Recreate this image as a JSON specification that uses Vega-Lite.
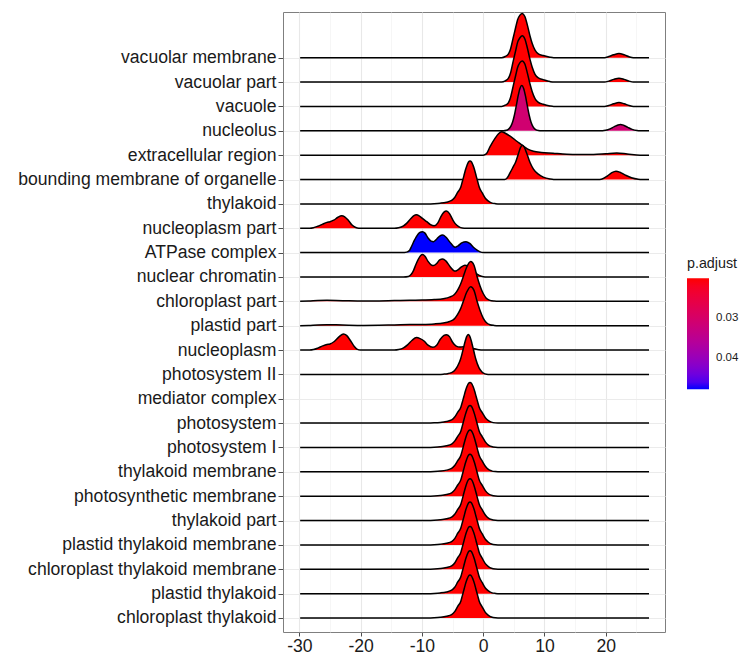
{
"$schema": "https://vega.github.io/schema/vega-lite/v6.json",
"width": 382,
"height": 620,
"autosize": "none",
"padding": {"left": 283, "top": 12, "right": 75, "bottom": 23},
"background": "white",
"config": {
  "font": "Liberation Sans",
  "view": {"stroke": "#7f7f7f", "strokeWidth": 1},
  "axis": {"domain": false, "labelFont": "Liberation Sans", "labelFontSize": 17.6, "labelColor": "#1a1a1a", "tickColor": "#4d4d4d", "tickWidth": 1, "gridColor": "#ebebeb", "gridWidth": 1, "title": null, "labelLimit": 400}
},
"datasets": {
  "terms": [
    {"term": "vacuolar membrane", "p_adjust": 0.02},
    {"term": "vacuolar part", "p_adjust": 0.02},
    {"term": "vacuole", "p_adjust": 0.02},
    {"term": "nucleolus", "p_adjust": 0.031},
    {"term": "extracellular region", "p_adjust": 0.02},
    {"term": "bounding membrane of organelle", "p_adjust": 0.02},
    {"term": "thylakoid", "p_adjust": 0.02},
    {"term": "nucleoplasm part", "p_adjust": 0.02},
    {"term": "ATPase complex", "p_adjust": 0.0478},
    {"term": "nuclear chromatin", "p_adjust": 0.02},
    {"term": "chloroplast part", "p_adjust": 0.02},
    {"term": "plastid part", "p_adjust": 0.02},
    {"term": "nucleoplasm", "p_adjust": 0.02},
    {"term": "photosystem II", "p_adjust": 0.02},
    {"term": "mediator complex", "p_adjust": 0.02},
    {"term": "photosystem", "p_adjust": 0.02},
    {"term": "photosystem I", "p_adjust": 0.02},
    {"term": "thylakoid membrane", "p_adjust": 0.02},
    {"term": "photosynthetic membrane", "p_adjust": 0.02},
    {"term": "thylakoid part", "p_adjust": 0.02},
    {"term": "plastid thylakoid membrane", "p_adjust": 0.02},
    {"term": "chloroplast thylakoid membrane", "p_adjust": 0.02},
    {"term": "plastid thylakoid", "p_adjust": 0.02},
    {"term": "chloroplast thylakoid", "p_adjust": 0.02}
  ],
  "ridges": [
    {"term":"vacuolar membrane","x":-29.87,"density":0},{"term":"vacuolar membrane","x":3.0,"density":0},{"term":"vacuolar membrane","x":3.6,"density":0.05},{"term":"vacuolar membrane","x":4.1,"density":0.15},{"term":"vacuolar membrane","x":4.45,"density":0.35},{"term":"vacuolar membrane","x":4.9,"density":0.82},{"term":"vacuolar membrane","x":5.3,"density":1.24},{"term":"vacuolar membrane","x":5.6,"density":1.55},{"term":"vacuolar membrane","x":6.0,"density":1.75},{"term":"vacuolar membrane","x":6.39,"density":1.82},{"term":"vacuolar membrane","x":6.8,"density":1.69},{"term":"vacuolar membrane","x":7.2,"density":1.35},{"term":"vacuolar membrane","x":7.64,"density":0.89},{"term":"vacuolar membrane","x":8.0,"density":0.58},{"term":"vacuolar membrane","x":8.46,"density":0.31},{"term":"vacuolar membrane","x":9.0,"density":0.16},{"term":"vacuolar membrane","x":9.8,"density":0.09},{"term":"vacuolar membrane","x":10.9,"density":0.02},{"term":"vacuolar membrane","x":11.5,"density":0},{"term":"vacuolar membrane","x":19.8,"density":0},{"term":"vacuolar membrane","x":20.5,"density":0.05},{"term":"vacuolar membrane","x":21.3,"density":0.12},{"term":"vacuolar membrane","x":22.16,"density":0.17},{"term":"vacuolar membrane","x":23.0,"density":0.12},{"term":"vacuolar membrane","x":23.8,"density":0.04},{"term":"vacuolar membrane","x":24.5,"density":0},{"term":"vacuolar membrane","x":27.06,"density":0},

    {"term":"vacuolar part","x":-29.87,"density":0},{"term":"vacuolar part","x":3.0,"density":0},{"term":"vacuolar part","x":3.6,"density":0.05},{"term":"vacuolar part","x":4.1,"density":0.15},{"term":"vacuolar part","x":4.45,"density":0.36},{"term":"vacuolar part","x":4.9,"density":0.86},{"term":"vacuolar part","x":5.3,"density":1.29},{"term":"vacuolar part","x":5.6,"density":1.62},{"term":"vacuolar part","x":6.0,"density":1.82},{"term":"vacuolar part","x":6.39,"density":1.9},{"term":"vacuolar part","x":6.8,"density":1.77},{"term":"vacuolar part","x":7.2,"density":1.41},{"term":"vacuolar part","x":7.64,"density":0.93},{"term":"vacuolar part","x":8.0,"density":0.61},{"term":"vacuolar part","x":8.46,"density":0.32},{"term":"vacuolar part","x":9.0,"density":0.17},{"term":"vacuolar part","x":9.8,"density":0.1},{"term":"vacuolar part","x":10.9,"density":0.02},{"term":"vacuolar part","x":11.5,"density":0},{"term":"vacuolar part","x":19.8,"density":0},{"term":"vacuolar part","x":20.5,"density":0.04},{"term":"vacuolar part","x":21.3,"density":0.11},{"term":"vacuolar part","x":22.16,"density":0.16},{"term":"vacuolar part","x":23.0,"density":0.11},{"term":"vacuolar part","x":23.8,"density":0.04},{"term":"vacuolar part","x":24.5,"density":0},{"term":"vacuolar part","x":27.06,"density":0},

    {"term":"vacuole","x":-29.87,"density":0},{"term":"vacuole","x":3.0,"density":0},{"term":"vacuole","x":3.6,"density":0.05},{"term":"vacuole","x":4.1,"density":0.15},{"term":"vacuole","x":4.45,"density":0.36},{"term":"vacuole","x":4.9,"density":0.84},{"term":"vacuole","x":5.3,"density":1.27},{"term":"vacuole","x":5.6,"density":1.59},{"term":"vacuole","x":6.0,"density":1.8},{"term":"vacuole","x":6.39,"density":1.87},{"term":"vacuole","x":6.8,"density":1.74},{"term":"vacuole","x":7.2,"density":1.38},{"term":"vacuole","x":7.64,"density":0.92},{"term":"vacuole","x":8.0,"density":0.6},{"term":"vacuole","x":8.46,"density":0.32},{"term":"vacuole","x":9.0,"density":0.17},{"term":"vacuole","x":9.8,"density":0.09},{"term":"vacuole","x":10.9,"density":0.02},{"term":"vacuole","x":11.5,"density":0},{"term":"vacuole","x":19.8,"density":0},{"term":"vacuole","x":20.5,"density":0.04},{"term":"vacuole","x":21.3,"density":0.11},{"term":"vacuole","x":22.16,"density":0.16},{"term":"vacuole","x":23.0,"density":0.11},{"term":"vacuole","x":23.8,"density":0.04},{"term":"vacuole","x":24.5,"density":0},{"term":"vacuole","x":27.06,"density":0},

    {"term":"nucleolus","x":-29.87,"density":0},{"term":"nucleolus","x":3.3,"density":0},{"term":"nucleolus","x":3.8,"density":0.02},{"term":"nucleolus","x":4.1,"density":0.06},{"term":"nucleolus","x":4.5,"density":0.18},{"term":"nucleolus","x":4.8,"density":0.36},{"term":"nucleolus","x":5.1,"density":0.65},{"term":"nucleolus","x":5.4,"density":1.03},{"term":"nucleolus","x":5.7,"density":1.43},{"term":"nucleolus","x":6.0,"density":1.74},{"term":"nucleolus","x":6.3,"density":1.86},{"term":"nucleolus","x":6.6,"density":1.74},{"term":"nucleolus","x":6.9,"density":1.43},{"term":"nucleolus","x":7.2,"density":1.03},{"term":"nucleolus","x":7.5,"density":0.65},{"term":"nucleolus","x":7.8,"density":0.36},{"term":"nucleolus","x":8.1,"density":0.18},{"term":"nucleolus","x":8.5,"density":0.06},{"term":"nucleolus","x":9.0,"density":0.01},{"term":"nucleolus","x":9.5,"density":0},{"term":"nucleolus","x":19.5,"density":0},{"term":"nucleolus","x":20.0,"density":0.02},{"term":"nucleolus","x":20.7,"density":0.08},{"term":"nucleolus","x":21.4,"density":0.17},{"term":"nucleolus","x":22.0,"density":0.24},{"term":"nucleolus","x":22.4,"density":0.26},{"term":"nucleolus","x":22.9,"density":0.23},{"term":"nucleolus","x":23.6,"density":0.14},{"term":"nucleolus","x":24.3,"density":0.06},{"term":"nucleolus","x":25.1,"density":0.01},{"term":"nucleolus","x":25.6,"density":0},{"term":"nucleolus","x":27.06,"density":0},

    {"term":"extracellular region","x":-29.87,"density":0},{"term":"extracellular region","x":0.0,"density":0},{"term":"extracellular region","x":0.5,"density":0.05},{"term":"extracellular region","x":1.1,"density":0.34},{"term":"extracellular region","x":1.9,"density":0.68},{"term":"extracellular region","x":2.5,"density":0.88},{"term":"extracellular region","x":3.0,"density":0.96},{"term":"extracellular region","x":3.6,"density":0.9},{"term":"extracellular region","x":4.4,"density":0.78},{"term":"extracellular region","x":5.6,"density":0.55},{"term":"extracellular region","x":6.5,"density":0.38},{"term":"extracellular region","x":7.2,"density":0.26},{"term":"extracellular region","x":8.2,"density":0.16},{"term":"extracellular region","x":9.5,"density":0.11},{"term":"extracellular region","x":11.4,"density":0.08},{"term":"extracellular region","x":13.0,"density":0.05},{"term":"extracellular region","x":15.0,"density":0.03},{"term":"extracellular region","x":18.0,"density":0.03},{"term":"extracellular region","x":20.0,"density":0.06},{"term":"extracellular region","x":21.8,"density":0.09},{"term":"extracellular region","x":23.5,"density":0.05},{"term":"extracellular region","x":25.6,"density":0},{"term":"extracellular region","x":27.06,"density":0},

    {"term":"bounding membrane of organelle","x":-29.87,"density":0},{"term":"bounding membrane of organelle","x":3.5,"density":0},{"term":"bounding membrane of organelle","x":3.9,"density":0.06},{"term":"bounding membrane of organelle","x":4.37,"density":0.27},{"term":"bounding membrane of organelle","x":4.85,"density":0.5},{"term":"bounding membrane of organelle","x":5.3,"density":0.72},{"term":"bounding membrane of organelle","x":5.8,"density":1.1},{"term":"bounding membrane of organelle","x":6.1,"density":1.32},{"term":"bounding membrane of organelle","x":6.39,"density":1.41},{"term":"bounding membrane of organelle","x":6.7,"density":1.33},{"term":"bounding membrane of organelle","x":7.1,"density":1.08},{"term":"bounding membrane of organelle","x":7.64,"density":0.7},{"term":"bounding membrane of organelle","x":8.2,"density":0.43},{"term":"bounding membrane of organelle","x":9.0,"density":0.22},{"term":"bounding membrane of organelle","x":9.8,"density":0.1},{"term":"bounding membrane of organelle","x":10.9,"density":0.02},{"term":"bounding membrane of organelle","x":11.5,"density":0},{"term":"bounding membrane of organelle","x":19.0,"density":0},{"term":"bounding membrane of organelle","x":19.6,"density":0.04},{"term":"bounding membrane of organelle","x":20.3,"density":0.15},{"term":"bounding membrane of organelle","x":21.0,"density":0.28},{"term":"bounding membrane of organelle","x":21.67,"density":0.34},{"term":"bounding membrane of organelle","x":22.3,"density":0.3},{"term":"bounding membrane of organelle","x":23.2,"density":0.18},{"term":"bounding membrane of organelle","x":24.2,"density":0.07},{"term":"bounding membrane of organelle","x":25.3,"density":0.01},{"term":"bounding membrane of organelle","x":25.9,"density":0},{"term":"bounding membrane of organelle","x":27.06,"density":0},

    {"term":"thylakoid","x":-29.87,"density":0},{"term":"thylakoid","x":-9.0,"density":0},{"term":"thylakoid","x":-8.0,"density":0.01},{"term":"thylakoid","x":-7.0,"density":0.03},{"term":"thylakoid","x":-6.0,"density":0.07},{"term":"thylakoid","x":-5.15,"density":0.14},{"term":"thylakoid","x":-4.65,"density":0.26},{"term":"thylakoid","x":-4.15,"density":0.48},{"term":"thylakoid","x":-3.65,"density":0.69},{"term":"thylakoid","x":-3.4,"density":0.92},{"term":"thylakoid","x":-3.15,"density":1.15},{"term":"thylakoid","x":-2.9,"density":1.39},{"term":"thylakoid","x":-2.65,"density":1.58},{"term":"thylakoid","x":-2.4,"density":1.72},{"term":"thylakoid","x":-2.15,"density":1.76},{"term":"thylakoid","x":-1.9,"density":1.72},{"term":"thylakoid","x":-1.65,"density":1.58},{"term":"thylakoid","x":-1.4,"density":1.39},{"term":"thylakoid","x":-1.15,"density":1.15},{"term":"thylakoid","x":-0.9,"density":0.92},{"term":"thylakoid","x":-0.65,"density":0.69},{"term":"thylakoid","x":-0.15,"density":0.45},{"term":"thylakoid","x":0.35,"density":0.23},{"term":"thylakoid","x":0.85,"density":0.11},{"term":"thylakoid","x":1.35,"density":0.04},{"term":"thylakoid","x":2.0,"density":0.01},{"term":"thylakoid","x":2.8,"density":0},{"term":"thylakoid","x":27.06,"density":0},

    {"term":"nucleoplasm part","x":-29.87,"density":0},{"term":"nucleoplasm part","x":-28.3,"density":0},{"term":"nucleoplasm part","x":-27.7,"density":0.02},{"term":"nucleoplasm part","x":-27.0,"density":0.08},{"term":"nucleoplasm part","x":-26.2,"density":0.17},{"term":"nucleoplasm part","x":-25.5,"density":0.24},{"term":"nucleoplasm part","x":-25.0,"density":0.27},{"term":"nucleoplasm part","x":-24.4,"density":0.33},{"term":"nucleoplasm part","x":-23.7,"density":0.45},{"term":"nucleoplasm part","x":-23.1,"density":0.51},{"term":"nucleoplasm part","x":-22.6,"density":0.47},{"term":"nucleoplasm part","x":-22.0,"density":0.32},{"term":"nucleoplasm part","x":-21.4,"density":0.13},{"term":"nucleoplasm part","x":-20.8,"density":0.03},{"term":"nucleoplasm part","x":-20.3,"density":0},{"term":"nucleoplasm part","x":-14.5,"density":0},{"term":"nucleoplasm part","x":-13.8,"density":0.02},{"term":"nucleoplasm part","x":-13.0,"density":0.1},{"term":"nucleoplasm part","x":-12.5,"density":0.2},{"term":"nucleoplasm part","x":-11.8,"density":0.4},{"term":"nucleoplasm part","x":-11.3,"density":0.52},{"term":"nucleoplasm part","x":-10.9,"density":0.55},{"term":"nucleoplasm part","x":-10.4,"density":0.5},{"term":"nucleoplasm part","x":-9.7,"density":0.36},{"term":"nucleoplasm part","x":-9.2,"density":0.27},{"term":"nucleoplasm part","x":-8.6,"density":0.15},{"term":"nucleoplasm part","x":-8.0,"density":0.1},{"term":"nucleoplasm part","x":-7.4,"density":0.22},{"term":"nucleoplasm part","x":-6.9,"density":0.48},{"term":"nucleoplasm part","x":-6.4,"density":0.66},{"term":"nucleoplasm part","x":-6.0,"density":0.71},{"term":"nucleoplasm part","x":-5.5,"density":0.6},{"term":"nucleoplasm part","x":-5.0,"density":0.36},{"term":"nucleoplasm part","x":-4.6,"density":0.2},{"term":"nucleoplasm part","x":-4.0,"density":0.07},{"term":"nucleoplasm part","x":-3.4,"density":0.01},{"term":"nucleoplasm part","x":-2.8,"density":0},{"term":"nucleoplasm part","x":27.06,"density":0},

    {"term":"ATPase complex","x":-29.87,"density":0},{"term":"ATPase complex","x":-13.2,"density":0},{"term":"ATPase complex","x":-12.5,"density":0.02},{"term":"ATPase complex","x":-12.0,"density":0.1},{"term":"ATPase complex","x":-11.7,"density":0.25},{"term":"ATPase complex","x":-11.3,"density":0.47},{"term":"ATPase complex","x":-10.9,"density":0.66},{"term":"ATPase complex","x":-10.4,"density":0.82},{"term":"ATPase complex","x":-9.9,"density":0.86},{"term":"ATPase complex","x":-9.5,"density":0.8},{"term":"ATPase complex","x":-9.0,"density":0.6},{"term":"ATPase complex","x":-8.5,"density":0.47},{"term":"ATPase complex","x":-8.1,"density":0.45},{"term":"ATPase complex","x":-7.6,"density":0.55},{"term":"ATPase complex","x":-7.1,"density":0.68},{"term":"ATPase complex","x":-6.6,"density":0.72},{"term":"ATPase complex","x":-6.1,"density":0.64},{"term":"ATPase complex","x":-5.4,"density":0.42},{"term":"ATPase complex","x":-4.9,"density":0.27},{"term":"ATPase complex","x":-4.6,"density":0.22},{"term":"ATPase complex","x":-4.1,"density":0.28},{"term":"ATPase complex","x":-3.5,"density":0.4},{"term":"ATPase complex","x":-2.8,"density":0.45},{"term":"ATPase complex","x":-2.2,"density":0.38},{"term":"ATPase complex","x":-1.6,"density":0.22},{"term":"ATPase complex","x":-1.0,"density":0.1},{"term":"ATPase complex","x":-0.5,"density":0.03},{"term":"ATPase complex","x":0.0,"density":0},{"term":"ATPase complex","x":27.06,"density":0},

    {"term":"nuclear chromatin","x":-29.87,"density":0},{"term":"nuclear chromatin","x":-13.0,"density":0},{"term":"nuclear chromatin","x":-12.2,"density":0.02},{"term":"nuclear chromatin","x":-11.7,"density":0.12},{"term":"nuclear chromatin","x":-11.4,"density":0.25},{"term":"nuclear chromatin","x":-11.0,"density":0.5},{"term":"nuclear chromatin","x":-10.6,"density":0.72},{"term":"nuclear chromatin","x":-10.2,"density":0.88},{"term":"nuclear chromatin","x":-9.9,"density":0.92},{"term":"nuclear chromatin","x":-9.5,"density":0.85},{"term":"nuclear chromatin","x":-9.0,"density":0.64},{"term":"nuclear chromatin","x":-8.5,"density":0.5},{"term":"nuclear chromatin","x":-8.1,"density":0.47},{"term":"nuclear chromatin","x":-7.6,"density":0.55},{"term":"nuclear chromatin","x":-7.1,"density":0.7},{"term":"nuclear chromatin","x":-6.6,"density":0.74},{"term":"nuclear chromatin","x":-6.1,"density":0.66},{"term":"nuclear chromatin","x":-5.4,"density":0.42},{"term":"nuclear chromatin","x":-4.9,"density":0.28},{"term":"nuclear chromatin","x":-4.6,"density":0.24},{"term":"nuclear chromatin","x":-4.2,"density":0.28},{"term":"nuclear chromatin","x":-3.6,"density":0.4},{"term":"nuclear chromatin","x":-3.0,"density":0.48},{"term":"nuclear chromatin","x":-2.5,"density":0.45},{"term":"nuclear chromatin","x":-1.8,"density":0.3},{"term":"nuclear chromatin","x":-1.0,"density":0.12},{"term":"nuclear chromatin","x":-0.3,"density":0.03},{"term":"nuclear chromatin","x":0.3,"density":0},{"term":"nuclear chromatin","x":27.06,"density":0},

    {"term":"chloroplast part","x":-29.87,"density":0},{"term":"chloroplast part","x":-28.5,"density":0.01},{"term":"chloroplast part","x":-27.0,"density":0.03},{"term":"chloroplast part","x":-25.5,"density":0.04},{"term":"chloroplast part","x":-24.0,"density":0.035},{"term":"chloroplast part","x":-22.0,"density":0.02},{"term":"chloroplast part","x":-19.5,"density":0.01},{"term":"chloroplast part","x":-17.0,"density":0.015},{"term":"chloroplast part","x":-14.5,"density":0.03},{"term":"chloroplast part","x":-12.0,"density":0.045},{"term":"chloroplast part","x":-10.0,"density":0.05},{"term":"chloroplast part","x":-8.0,"density":0.07},{"term":"chloroplast part","x":-6.5,"density":0.11},{"term":"chloroplast part","x":-5.5,"density":0.17},{"term":"chloroplast part","x":-4.7,"density":0.28},{"term":"chloroplast part","x":-4.2,"density":0.45},{"term":"chloroplast part","x":-3.7,"density":0.7},{"term":"chloroplast part","x":-3.2,"density":1.05},{"term":"chloroplast part","x":-2.7,"density":1.4},{"term":"chloroplast part","x":-2.04,"density":1.63},{"term":"chloroplast part","x":-1.5,"density":1.48},{"term":"chloroplast part","x":-1.0,"density":1.02},{"term":"chloroplast part","x":-0.5,"density":0.62},{"term":"chloroplast part","x":0.0,"density":0.32},{"term":"chloroplast part","x":0.5,"density":0.13},{"term":"chloroplast part","x":1.1,"density":0.04},{"term":"chloroplast part","x":1.8,"density":0.01},{"term":"chloroplast part","x":2.5,"density":0},{"term":"chloroplast part","x":27.06,"density":0},

    {"term":"plastid part","x":-29.87,"density":0},{"term":"plastid part","x":-28.5,"density":0.01},{"term":"plastid part","x":-27.0,"density":0.03},{"term":"plastid part","x":-25.5,"density":0.04},{"term":"plastid part","x":-24.0,"density":0.035},{"term":"plastid part","x":-22.0,"density":0.02},{"term":"plastid part","x":-19.5,"density":0.01},{"term":"plastid part","x":-17.0,"density":0.015},{"term":"plastid part","x":-14.5,"density":0.03},{"term":"plastid part","x":-12.0,"density":0.045},{"term":"plastid part","x":-10.0,"density":0.05},{"term":"plastid part","x":-8.0,"density":0.07},{"term":"plastid part","x":-6.5,"density":0.11},{"term":"plastid part","x":-5.5,"density":0.17},{"term":"plastid part","x":-4.7,"density":0.28},{"term":"plastid part","x":-4.2,"density":0.45},{"term":"plastid part","x":-3.7,"density":0.69},{"term":"plastid part","x":-3.2,"density":1.03},{"term":"plastid part","x":-2.7,"density":1.37},{"term":"plastid part","x":-2.04,"density":1.6},{"term":"plastid part","x":-1.5,"density":1.45},{"term":"plastid part","x":-1.0,"density":1.0},{"term":"plastid part","x":-0.5,"density":0.61},{"term":"plastid part","x":0.0,"density":0.31},{"term":"plastid part","x":0.5,"density":0.13},{"term":"plastid part","x":1.1,"density":0.04},{"term":"plastid part","x":1.8,"density":0.01},{"term":"plastid part","x":2.5,"density":0},{"term":"plastid part","x":27.06,"density":0},

    {"term":"nucleoplasm","x":-29.87,"density":0},{"term":"nucleoplasm","x":-28.3,"density":0},{"term":"nucleoplasm","x":-27.7,"density":0.02},{"term":"nucleoplasm","x":-27.0,"density":0.08},{"term":"nucleoplasm","x":-26.2,"density":0.17},{"term":"nucleoplasm","x":-25.5,"density":0.23},{"term":"nucleoplasm","x":-25.0,"density":0.25},{"term":"nucleoplasm","x":-24.3,"density":0.35},{"term":"nucleoplasm","x":-23.5,"density":0.55},{"term":"nucleoplasm","x":-22.8,"density":0.66},{"term":"nucleoplasm","x":-22.3,"density":0.6},{"term":"nucleoplasm","x":-21.7,"density":0.4},{"term":"nucleoplasm","x":-21.1,"density":0.17},{"term":"nucleoplasm","x":-20.6,"density":0.04},{"term":"nucleoplasm","x":-20.0,"density":0},{"term":"nucleoplasm","x":-14.5,"density":0},{"term":"nucleoplasm","x":-13.8,"density":0.02},{"term":"nucleoplasm","x":-13.0,"density":0.09},{"term":"nucleoplasm","x":-12.3,"density":0.22},{"term":"nucleoplasm","x":-11.6,"density":0.4},{"term":"nucleoplasm","x":-10.9,"density":0.51},{"term":"nucleoplasm","x":-10.3,"density":0.47},{"term":"nucleoplasm","x":-9.6,"density":0.36},{"term":"nucleoplasm","x":-9.0,"density":0.2},{"term":"nucleoplasm","x":-8.2,"density":0.11},{"term":"nucleoplasm","x":-7.6,"density":0.2},{"term":"nucleoplasm","x":-7.0,"density":0.44},{"term":"nucleoplasm","x":-6.4,"density":0.6},{"term":"nucleoplasm","x":-6.0,"density":0.63},{"term":"nucleoplasm","x":-5.5,"density":0.55},{"term":"nucleoplasm","x":-5.0,"density":0.32},{"term":"nucleoplasm","x":-4.4,"density":0.16},{"term":"nucleoplasm","x":-3.8,"density":0.12},{"term":"nucleoplasm","x":-3.2,"density":0.14},{"term":"nucleoplasm","x":-2.7,"density":0.14},{"term":"nucleoplasm","x":-2.1,"density":0.1},{"term":"nucleoplasm","x":-1.4,"density":0.05},{"term":"nucleoplasm","x":-0.7,"density":0.01},{"term":"nucleoplasm","x":0.0,"density":0},{"term":"nucleoplasm","x":27.06,"density":0},

    {"term":"photosystem II","x":-29.87,"density":0},{"term":"photosystem II","x":-7.2,"density":0},{"term":"photosystem II","x":-6.5,"density":0.01},{"term":"photosystem II","x":-5.8,"density":0.03},{"term":"photosystem II","x":-5.2,"density":0.07},{"term":"photosystem II","x":-4.7,"density":0.15},{"term":"photosystem II","x":-4.2,"density":0.33},{"term":"photosystem II","x":-3.7,"density":0.62},{"term":"photosystem II","x":-3.45,"density":0.85},{"term":"photosystem II","x":-3.2,"density":1.1},{"term":"photosystem II","x":-2.95,"density":1.35},{"term":"photosystem II","x":-2.7,"density":1.55},{"term":"photosystem II","x":-2.45,"density":1.64},{"term":"photosystem II","x":-2.2,"density":1.57},{"term":"photosystem II","x":-1.95,"density":1.38},{"term":"photosystem II","x":-1.7,"density":1.13},{"term":"photosystem II","x":-1.45,"density":0.87},{"term":"photosystem II","x":-1.2,"density":0.62},{"term":"photosystem II","x":-0.7,"density":0.28},{"term":"photosystem II","x":-0.2,"density":0.1},{"term":"photosystem II","x":0.3,"density":0.02},{"term":"photosystem II","x":0.8,"density":0},{"term":"photosystem II","x":27.06,"density":0},

    {"term":"photosystem","x":-29.87,"density":0},{"term":"photosystem","x":-9.0,"density":0},{"term":"photosystem","x":-8.0,"density":0.01},{"term":"photosystem","x":-7.0,"density":0.03},{"term":"photosystem","x":-6.0,"density":0.07},{"term":"photosystem","x":-5.15,"density":0.13},{"term":"photosystem","x":-4.65,"density":0.25},{"term":"photosystem","x":-4.15,"density":0.45},{"term":"photosystem","x":-3.65,"density":0.65},{"term":"photosystem","x":-3.4,"density":0.87},{"term":"photosystem","x":-3.15,"density":1.09},{"term":"photosystem","x":-2.9,"density":1.32},{"term":"photosystem","x":-2.65,"density":1.5},{"term":"photosystem","x":-2.4,"density":1.63},{"term":"photosystem","x":-2.15,"density":1.67},{"term":"photosystem","x":-1.9,"density":1.63},{"term":"photosystem","x":-1.65,"density":1.5},{"term":"photosystem","x":-1.4,"density":1.32},{"term":"photosystem","x":-1.15,"density":1.09},{"term":"photosystem","x":-0.9,"density":0.87},{"term":"photosystem","x":-0.65,"density":0.65},{"term":"photosystem","x":-0.15,"density":0.43},{"term":"photosystem","x":0.35,"density":0.22},{"term":"photosystem","x":0.85,"density":0.1},{"term":"photosystem","x":1.35,"density":0.04},{"term":"photosystem","x":2.0,"density":0.01},{"term":"photosystem","x":2.8,"density":0},{"term":"photosystem","x":27.06,"density":0},

    {"term":"photosystem I","x":-29.87,"density":0},{"term":"photosystem I","x":-9.0,"density":0},{"term":"photosystem I","x":-8.0,"density":0.01},{"term":"photosystem I","x":-7.0,"density":0.03},{"term":"photosystem I","x":-6.0,"density":0.07},{"term":"photosystem I","x":-5.15,"density":0.14},{"term":"photosystem I","x":-4.65,"density":0.26},{"term":"photosystem I","x":-4.15,"density":0.46},{"term":"photosystem I","x":-3.65,"density":0.67},{"term":"photosystem I","x":-3.4,"density":0.89},{"term":"photosystem I","x":-3.15,"density":1.13},{"term":"photosystem I","x":-2.9,"density":1.36},{"term":"photosystem I","x":-2.65,"density":1.55},{"term":"photosystem I","x":-2.4,"density":1.68},{"term":"photosystem I","x":-2.15,"density":1.72},{"term":"photosystem I","x":-1.9,"density":1.68},{"term":"photosystem I","x":-1.65,"density":1.55},{"term":"photosystem I","x":-1.4,"density":1.36},{"term":"photosystem I","x":-1.15,"density":1.13},{"term":"photosystem I","x":-0.9,"density":0.89},{"term":"photosystem I","x":-0.65,"density":0.67},{"term":"photosystem I","x":-0.15,"density":0.44},{"term":"photosystem I","x":0.35,"density":0.23},{"term":"photosystem I","x":0.85,"density":0.1},{"term":"photosystem I","x":1.35,"density":0.04},{"term":"photosystem I","x":2.0,"density":0.01},{"term":"photosystem I","x":2.8,"density":0},{"term":"photosystem I","x":27.06,"density":0},

    {"term":"thylakoid membrane","x":-29.87,"density":0},{"term":"thylakoid membrane","x":-9.0,"density":0},{"term":"thylakoid membrane","x":-8.0,"density":0.01},{"term":"thylakoid membrane","x":-7.0,"density":0.03},{"term":"thylakoid membrane","x":-6.0,"density":0.07},{"term":"thylakoid membrane","x":-5.15,"density":0.14},{"term":"thylakoid membrane","x":-4.65,"density":0.26},{"term":"thylakoid membrane","x":-4.15,"density":0.46},{"term":"thylakoid membrane","x":-3.65,"density":0.67},{"term":"thylakoid membrane","x":-3.4,"density":0.89},{"term":"thylakoid membrane","x":-3.15,"density":1.13},{"term":"thylakoid membrane","x":-2.9,"density":1.36},{"term":"thylakoid membrane","x":-2.65,"density":1.55},{"term":"thylakoid membrane","x":-2.4,"density":1.68},{"term":"thylakoid membrane","x":-2.15,"density":1.72},{"term":"thylakoid membrane","x":-1.9,"density":1.68},{"term":"thylakoid membrane","x":-1.65,"density":1.55},{"term":"thylakoid membrane","x":-1.4,"density":1.36},{"term":"thylakoid membrane","x":-1.15,"density":1.13},{"term":"thylakoid membrane","x":-0.9,"density":0.89},{"term":"thylakoid membrane","x":-0.65,"density":0.67},{"term":"thylakoid membrane","x":-0.15,"density":0.44},{"term":"thylakoid membrane","x":0.35,"density":0.23},{"term":"thylakoid membrane","x":0.85,"density":0.1},{"term":"thylakoid membrane","x":1.35,"density":0.04},{"term":"thylakoid membrane","x":2.0,"density":0.01},{"term":"thylakoid membrane","x":2.8,"density":0},{"term":"thylakoid membrane","x":27.06,"density":0},

    {"term":"photosynthetic membrane","x":-29.87,"density":0},{"term":"photosynthetic membrane","x":-9.0,"density":0},{"term":"photosynthetic membrane","x":-8.0,"density":0.01},{"term":"photosynthetic membrane","x":-7.0,"density":0.03},{"term":"photosynthetic membrane","x":-6.0,"density":0.07},{"term":"photosynthetic membrane","x":-5.15,"density":0.14},{"term":"photosynthetic membrane","x":-4.65,"density":0.26},{"term":"photosynthetic membrane","x":-4.15,"density":0.46},{"term":"photosynthetic membrane","x":-3.65,"density":0.67},{"term":"photosynthetic membrane","x":-3.4,"density":0.89},{"term":"photosynthetic membrane","x":-3.15,"density":1.13},{"term":"photosynthetic membrane","x":-2.9,"density":1.36},{"term":"photosynthetic membrane","x":-2.65,"density":1.55},{"term":"photosynthetic membrane","x":-2.4,"density":1.68},{"term":"photosynthetic membrane","x":-2.15,"density":1.72},{"term":"photosynthetic membrane","x":-1.9,"density":1.68},{"term":"photosynthetic membrane","x":-1.65,"density":1.55},{"term":"photosynthetic membrane","x":-1.4,"density":1.36},{"term":"photosynthetic membrane","x":-1.15,"density":1.13},{"term":"photosynthetic membrane","x":-0.9,"density":0.89},{"term":"photosynthetic membrane","x":-0.65,"density":0.67},{"term":"photosynthetic membrane","x":-0.15,"density":0.44},{"term":"photosynthetic membrane","x":0.35,"density":0.23},{"term":"photosynthetic membrane","x":0.85,"density":0.1},{"term":"photosynthetic membrane","x":1.35,"density":0.04},{"term":"photosynthetic membrane","x":2.0,"density":0.01},{"term":"photosynthetic membrane","x":2.8,"density":0},{"term":"photosynthetic membrane","x":27.06,"density":0},

    {"term":"thylakoid part","x":-29.87,"density":0},{"term":"thylakoid part","x":-9.0,"density":0},{"term":"thylakoid part","x":-8.0,"density":0.01},{"term":"thylakoid part","x":-7.0,"density":0.03},{"term":"thylakoid part","x":-6.0,"density":0.07},{"term":"thylakoid part","x":-5.15,"density":0.14},{"term":"thylakoid part","x":-4.65,"density":0.26},{"term":"thylakoid part","x":-4.15,"density":0.46},{"term":"thylakoid part","x":-3.65,"density":0.67},{"term":"thylakoid part","x":-3.4,"density":0.89},{"term":"thylakoid part","x":-3.15,"density":1.13},{"term":"thylakoid part","x":-2.9,"density":1.36},{"term":"thylakoid part","x":-2.65,"density":1.55},{"term":"thylakoid part","x":-2.4,"density":1.68},{"term":"thylakoid part","x":-2.15,"density":1.72},{"term":"thylakoid part","x":-1.9,"density":1.68},{"term":"thylakoid part","x":-1.65,"density":1.55},{"term":"thylakoid part","x":-1.4,"density":1.36},{"term":"thylakoid part","x":-1.15,"density":1.13},{"term":"thylakoid part","x":-0.9,"density":0.89},{"term":"thylakoid part","x":-0.65,"density":0.67},{"term":"thylakoid part","x":-0.15,"density":0.44},{"term":"thylakoid part","x":0.35,"density":0.23},{"term":"thylakoid part","x":0.85,"density":0.1},{"term":"thylakoid part","x":1.35,"density":0.04},{"term":"thylakoid part","x":2.0,"density":0.01},{"term":"thylakoid part","x":2.8,"density":0},{"term":"thylakoid part","x":27.06,"density":0},

    {"term":"plastid thylakoid membrane","x":-29.87,"density":0},{"term":"plastid thylakoid membrane","x":-9.0,"density":0},{"term":"plastid thylakoid membrane","x":-8.0,"density":0.01},{"term":"plastid thylakoid membrane","x":-7.0,"density":0.03},{"term":"plastid thylakoid membrane","x":-6.0,"density":0.07},{"term":"plastid thylakoid membrane","x":-5.15,"density":0.14},{"term":"plastid thylakoid membrane","x":-4.65,"density":0.26},{"term":"plastid thylakoid membrane","x":-4.15,"density":0.48},{"term":"plastid thylakoid membrane","x":-3.65,"density":0.69},{"term":"plastid thylakoid membrane","x":-3.4,"density":0.92},{"term":"plastid thylakoid membrane","x":-3.15,"density":1.15},{"term":"plastid thylakoid membrane","x":-2.9,"density":1.39},{"term":"plastid thylakoid membrane","x":-2.65,"density":1.58},{"term":"plastid thylakoid membrane","x":-2.4,"density":1.72},{"term":"plastid thylakoid membrane","x":-2.15,"density":1.76},{"term":"plastid thylakoid membrane","x":-1.9,"density":1.72},{"term":"plastid thylakoid membrane","x":-1.65,"density":1.58},{"term":"plastid thylakoid membrane","x":-1.4,"density":1.39},{"term":"plastid thylakoid membrane","x":-1.15,"density":1.15},{"term":"plastid thylakoid membrane","x":-0.9,"density":0.92},{"term":"plastid thylakoid membrane","x":-0.65,"density":0.69},{"term":"plastid thylakoid membrane","x":-0.15,"density":0.45},{"term":"plastid thylakoid membrane","x":0.35,"density":0.23},{"term":"plastid thylakoid membrane","x":0.85,"density":0.11},{"term":"plastid thylakoid membrane","x":1.35,"density":0.04},{"term":"plastid thylakoid membrane","x":2.0,"density":0.01},{"term":"plastid thylakoid membrane","x":2.8,"density":0},{"term":"plastid thylakoid membrane","x":27.06,"density":0},

    {"term":"chloroplast thylakoid membrane","x":-29.87,"density":0},{"term":"chloroplast thylakoid membrane","x":-9.0,"density":0},{"term":"chloroplast thylakoid membrane","x":-8.0,"density":0.01},{"term":"chloroplast thylakoid membrane","x":-7.0,"density":0.03},{"term":"chloroplast thylakoid membrane","x":-6.0,"density":0.07},{"term":"chloroplast thylakoid membrane","x":-5.15,"density":0.14},{"term":"chloroplast thylakoid membrane","x":-4.65,"density":0.26},{"term":"chloroplast thylakoid membrane","x":-4.15,"density":0.48},{"term":"chloroplast thylakoid membrane","x":-3.65,"density":0.69},{"term":"chloroplast thylakoid membrane","x":-3.4,"density":0.92},{"term":"chloroplast thylakoid membrane","x":-3.15,"density":1.15},{"term":"chloroplast thylakoid membrane","x":-2.9,"density":1.39},{"term":"chloroplast thylakoid membrane","x":-2.65,"density":1.58},{"term":"chloroplast thylakoid membrane","x":-2.4,"density":1.72},{"term":"chloroplast thylakoid membrane","x":-2.15,"density":1.76},{"term":"chloroplast thylakoid membrane","x":-1.9,"density":1.72},{"term":"chloroplast thylakoid membrane","x":-1.65,"density":1.58},{"term":"chloroplast thylakoid membrane","x":-1.4,"density":1.39},{"term":"chloroplast thylakoid membrane","x":-1.15,"density":1.15},{"term":"chloroplast thylakoid membrane","x":-0.9,"density":0.92},{"term":"chloroplast thylakoid membrane","x":-0.65,"density":0.69},{"term":"chloroplast thylakoid membrane","x":-0.15,"density":0.45},{"term":"chloroplast thylakoid membrane","x":0.35,"density":0.23},{"term":"chloroplast thylakoid membrane","x":0.85,"density":0.11},{"term":"chloroplast thylakoid membrane","x":1.35,"density":0.04},{"term":"chloroplast thylakoid membrane","x":2.0,"density":0.01},{"term":"chloroplast thylakoid membrane","x":2.8,"density":0},{"term":"chloroplast thylakoid membrane","x":27.06,"density":0},

    {"term":"plastid thylakoid","x":-29.87,"density":0},{"term":"plastid thylakoid","x":-9.0,"density":0},{"term":"plastid thylakoid","x":-8.0,"density":0.01},{"term":"plastid thylakoid","x":-7.0,"density":0.03},{"term":"plastid thylakoid","x":-6.0,"density":0.07},{"term":"plastid thylakoid","x":-5.15,"density":0.14},{"term":"plastid thylakoid","x":-4.65,"density":0.26},{"term":"plastid thylakoid","x":-4.15,"density":0.48},{"term":"plastid thylakoid","x":-3.65,"density":0.69},{"term":"plastid thylakoid","x":-3.4,"density":0.92},{"term":"plastid thylakoid","x":-3.15,"density":1.15},{"term":"plastid thylakoid","x":-2.9,"density":1.39},{"term":"plastid thylakoid","x":-2.65,"density":1.58},{"term":"plastid thylakoid","x":-2.4,"density":1.72},{"term":"plastid thylakoid","x":-2.15,"density":1.76},{"term":"plastid thylakoid","x":-1.9,"density":1.72},{"term":"plastid thylakoid","x":-1.65,"density":1.58},{"term":"plastid thylakoid","x":-1.4,"density":1.39},{"term":"plastid thylakoid","x":-1.15,"density":1.15},{"term":"plastid thylakoid","x":-0.9,"density":0.92},{"term":"plastid thylakoid","x":-0.65,"density":0.69},{"term":"plastid thylakoid","x":-0.15,"density":0.45},{"term":"plastid thylakoid","x":0.35,"density":0.23},{"term":"plastid thylakoid","x":0.85,"density":0.11},{"term":"plastid thylakoid","x":1.35,"density":0.04},{"term":"plastid thylakoid","x":2.0,"density":0.01},{"term":"plastid thylakoid","x":2.8,"density":0},{"term":"plastid thylakoid","x":27.06,"density":0},

    {"term":"chloroplast thylakoid","x":-29.87,"density":0},{"term":"chloroplast thylakoid","x":-9.0,"density":0},{"term":"chloroplast thylakoid","x":-8.0,"density":0.01},{"term":"chloroplast thylakoid","x":-7.0,"density":0.03},{"term":"chloroplast thylakoid","x":-6.0,"density":0.07},{"term":"chloroplast thylakoid","x":-5.15,"density":0.14},{"term":"chloroplast thylakoid","x":-4.65,"density":0.26},{"term":"chloroplast thylakoid","x":-4.15,"density":0.48},{"term":"chloroplast thylakoid","x":-3.65,"density":0.69},{"term":"chloroplast thylakoid","x":-3.4,"density":0.92},{"term":"chloroplast thylakoid","x":-3.15,"density":1.15},{"term":"chloroplast thylakoid","x":-2.9,"density":1.39},{"term":"chloroplast thylakoid","x":-2.65,"density":1.58},{"term":"chloroplast thylakoid","x":-2.4,"density":1.72},{"term":"chloroplast thylakoid","x":-2.15,"density":1.76},{"term":"chloroplast thylakoid","x":-1.9,"density":1.72},{"term":"chloroplast thylakoid","x":-1.65,"density":1.58},{"term":"chloroplast thylakoid","x":-1.4,"density":1.39},{"term":"chloroplast thylakoid","x":-1.15,"density":1.15},{"term":"chloroplast thylakoid","x":-0.9,"density":0.92},{"term":"chloroplast thylakoid","x":-0.65,"density":0.69},{"term":"chloroplast thylakoid","x":-0.15,"density":0.45},{"term":"chloroplast thylakoid","x":0.35,"density":0.23},{"term":"chloroplast thylakoid","x":0.85,"density":0.11},{"term":"chloroplast thylakoid","x":1.35,"density":0.04},{"term":"chloroplast thylakoid","x":2.0,"density":0.01},{"term":"chloroplast thylakoid","x":2.8,"density":0},{"term":"chloroplast thylakoid","x":27.06,"density":0}
  ]
},
"data": {"name": "ridges"},
"transform": [{"lookup": "term", "from": {"data": {"name": "terms"}, "key": "term", "fields": ["p_adjust"]}}],
"encoding": {
  "x": {"field": "x", "type": "quantitative", "scale": {"domain": [-32.67, 29.67], "nice": false, "zero": false},
    "axis": {"values": [-30, -25, -20, -15, -10, -5, 0, 5, 10, 15, 20, 25], "labelExpr": "datum.value % 10 === 0 ? '' + datum.value : ''", "grid": true,
      "gridColor": {"condition": {"test": "datum.value % 10 === 0", "value": "#e8e8e8"}, "value": "#f2f2f2"},
      "gridWidth": {"condition": {"test": "datum.value % 10 === 0", "value": 1.1}, "value": 0.7},
      "tickOpacity": {"condition": {"test": "datum.value % 10 === 0", "value": 1}, "value": 0},
      "tickSize": 4, "labelPadding": 1, "labelFlush": false, "labelOverlap": false, "title": null}},
  "color": {"field": "p_adjust", "type": "quantitative",
    "scale": {"domain": [0.0478, 0.02], "range": ["#0000FF", "#FF0000"], "interpolate": "lab", "nice": false, "zero": false},
    "legend": {"title": "p.adjust", "orient": "none", "legendX": 404, "legendY": 245, "direction": "vertical", "gradientLength": 111, "gradientThickness": 22, "gradientStrokeWidth": 0, "values": [0.03, 0.04], "format": ".2f", "labelFont": "Liberation Sans", "labelFontSize": 11.5, "labelColor": "#1a1a1a", "labelOffset": 7, "titleFont": "Liberation Sans", "titleFontSize": 14.3, "titleFontWeight": "normal", "titleColor": "#1a1a1a", "titlePadding": 7}}
},
"layer": [
  {"transform": [{"filter": {"field": "term", "equal": "vacuolar membrane"}}], "encoding": {"y": {"field": "density", "type": "quantitative", "stack": null, "scale": {"domain": [-23.575, 1.877], "nice": false, "zero": false},
    "axis": {"values": [-23, -22, -21, -20, -19, -18, -17, -16, -15, -14, -13, -12, -11, -10, -9, -8, -7, -6, -5, -4, -3, -2, -1, 0], "labelExpr": "['chloroplast thylakoid','plastid thylakoid','chloroplast thylakoid membrane','plastid thylakoid membrane','thylakoid part','photosynthetic membrane','thylakoid membrane','photosystem I','photosystem','mediator complex','photosystem II','nucleoplasm','plastid part','chloroplast part','nuclear chromatin','ATPase complex','nucleoplasm part','thylakoid','bounding membrane of organelle','extracellular region','nucleolus','vacuole','vacuolar part','vacuolar membrane'][datum.value + 23]", "grid": true, "gridColor": "#ebebeb", "tickSize": 5, "labelPadding": 2, "labelOverlap": false, "labelBound": false, "labelFlush": false, "labelLimit": 400, "title": null}}},
   "layer": [{"mark": {"type": "area", "interpolate": "monotone", "opacity": 1}, "encoding": {"y2": {"datum": 0}}}, {"mark": {"type": "line", "interpolate": "monotone", "strokeWidth": 1.5}, "encoding": {"color": {"value": "black"}}}]},
  {"transform": [{"filter": {"field": "term", "equal": "vacuolar part"}}], "encoding": {"y": {"field": "density", "type": "quantitative", "stack": null, "scale": {"domain": [-22.575, 2.877], "nice": false, "zero": false}, "axis": null}},
   "layer": [{"mark": {"type": "area", "interpolate": "monotone", "opacity": 1}, "encoding": {"y2": {"datum": 0}}}, {"mark": {"type": "line", "interpolate": "monotone", "strokeWidth": 1.5}, "encoding": {"color": {"value": "black"}}}]},
  {"transform": [{"filter": {"field": "term", "equal": "vacuole"}}], "encoding": {"y": {"field": "density", "type": "quantitative", "stack": null, "scale": {"domain": [-21.575, 3.877], "nice": false, "zero": false}, "axis": null}},
   "layer": [{"mark": {"type": "area", "interpolate": "monotone", "opacity": 1}, "encoding": {"y2": {"datum": 0}}}, {"mark": {"type": "line", "interpolate": "monotone", "strokeWidth": 1.5}, "encoding": {"color": {"value": "black"}}}]},
  {"transform": [{"filter": {"field": "term", "equal": "nucleolus"}}], "encoding": {"y": {"field": "density", "type": "quantitative", "stack": null, "scale": {"domain": [-20.575, 4.877], "nice": false, "zero": false}, "axis": null}},
   "layer": [{"mark": {"type": "area", "interpolate": "monotone", "opacity": 1}, "encoding": {"y2": {"datum": 0}}}, {"mark": {"type": "line", "interpolate": "monotone", "strokeWidth": 1.5}, "encoding": {"color": {"value": "black"}}}]},
  {"transform": [{"filter": {"field": "term", "equal": "extracellular region"}}], "encoding": {"y": {"field": "density", "type": "quantitative", "stack": null, "scale": {"domain": [-19.575, 5.877], "nice": false, "zero": false}, "axis": null}},
   "layer": [{"mark": {"type": "area", "interpolate": "monotone", "opacity": 1}, "encoding": {"y2": {"datum": 0}}}, {"mark": {"type": "line", "interpolate": "monotone", "strokeWidth": 1.5}, "encoding": {"color": {"value": "black"}}}]},
  {"transform": [{"filter": {"field": "term", "equal": "bounding membrane of organelle"}}], "encoding": {"y": {"field": "density", "type": "quantitative", "stack": null, "scale": {"domain": [-18.575, 6.877], "nice": false, "zero": false}, "axis": null}},
   "layer": [{"mark": {"type": "area", "interpolate": "monotone", "opacity": 1}, "encoding": {"y2": {"datum": 0}}}, {"mark": {"type": "line", "interpolate": "monotone", "strokeWidth": 1.5}, "encoding": {"color": {"value": "black"}}}]},
  {"transform": [{"filter": {"field": "term", "equal": "thylakoid"}}], "encoding": {"y": {"field": "density", "type": "quantitative", "stack": null, "scale": {"domain": [-17.575, 7.877], "nice": false, "zero": false}, "axis": null}},
   "layer": [{"mark": {"type": "area", "interpolate": "monotone", "opacity": 1}, "encoding": {"y2": {"datum": 0}}}, {"mark": {"type": "line", "interpolate": "monotone", "strokeWidth": 1.5}, "encoding": {"color": {"value": "black"}}}]},
  {"transform": [{"filter": {"field": "term", "equal": "nucleoplasm part"}}], "encoding": {"y": {"field": "density", "type": "quantitative", "stack": null, "scale": {"domain": [-16.575, 8.877], "nice": false, "zero": false}, "axis": null}},
   "layer": [{"mark": {"type": "area", "interpolate": "monotone", "opacity": 1}, "encoding": {"y2": {"datum": 0}}}, {"mark": {"type": "line", "interpolate": "monotone", "strokeWidth": 1.5}, "encoding": {"color": {"value": "black"}}}]},
  {"transform": [{"filter": {"field": "term", "equal": "ATPase complex"}}], "encoding": {"y": {"field": "density", "type": "quantitative", "stack": null, "scale": {"domain": [-15.575, 9.877], "nice": false, "zero": false}, "axis": null}},
   "layer": [{"mark": {"type": "area", "interpolate": "monotone", "opacity": 1}, "encoding": {"y2": {"datum": 0}}}, {"mark": {"type": "line", "interpolate": "monotone", "strokeWidth": 1.5}, "encoding": {"color": {"value": "black"}}}]},
  {"transform": [{"filter": {"field": "term", "equal": "nuclear chromatin"}}], "encoding": {"y": {"field": "density", "type": "quantitative", "stack": null, "scale": {"domain": [-14.575, 10.877], "nice": false, "zero": false}, "axis": null}},
   "layer": [{"mark": {"type": "area", "interpolate": "monotone", "opacity": 1}, "encoding": {"y2": {"datum": 0}}}, {"mark": {"type": "line", "interpolate": "monotone", "strokeWidth": 1.5}, "encoding": {"color": {"value": "black"}}}]},
  {"transform": [{"filter": {"field": "term", "equal": "chloroplast part"}}], "encoding": {"y": {"field": "density", "type": "quantitative", "stack": null, "scale": {"domain": [-13.575, 11.877], "nice": false, "zero": false}, "axis": null}},
   "layer": [{"mark": {"type": "area", "interpolate": "monotone", "opacity": 1}, "encoding": {"y2": {"datum": 0}}}, {"mark": {"type": "line", "interpolate": "monotone", "strokeWidth": 1.5}, "encoding": {"color": {"value": "black"}}}]},
  {"transform": [{"filter": {"field": "term", "equal": "plastid part"}}], "encoding": {"y": {"field": "density", "type": "quantitative", "stack": null, "scale": {"domain": [-12.575, 12.877], "nice": false, "zero": false}, "axis": null}},
   "layer": [{"mark": {"type": "area", "interpolate": "monotone", "opacity": 1}, "encoding": {"y2": {"datum": 0}}}, {"mark": {"type": "line", "interpolate": "monotone", "strokeWidth": 1.5}, "encoding": {"color": {"value": "black"}}}]},
  {"transform": [{"filter": {"field": "term", "equal": "nucleoplasm"}}], "encoding": {"y": {"field": "density", "type": "quantitative", "stack": null, "scale": {"domain": [-11.575, 13.877], "nice": false, "zero": false}, "axis": null}},
   "layer": [{"mark": {"type": "area", "interpolate": "monotone", "opacity": 1}, "encoding": {"y2": {"datum": 0}}}, {"mark": {"type": "line", "interpolate": "monotone", "strokeWidth": 1.5}, "encoding": {"color": {"value": "black"}}}]},
  {"transform": [{"filter": {"field": "term", "equal": "photosystem II"}}], "encoding": {"y": {"field": "density", "type": "quantitative", "stack": null, "scale": {"domain": [-10.575, 14.877], "nice": false, "zero": false}, "axis": null}},
   "layer": [{"mark": {"type": "area", "interpolate": "monotone", "opacity": 1}, "encoding": {"y2": {"datum": 0}}}, {"mark": {"type": "line", "interpolate": "monotone", "strokeWidth": 1.5}, "encoding": {"color": {"value": "black"}}}]},
  {"transform": [{"filter": {"field": "term", "equal": "photosystem"}}], "encoding": {"y": {"field": "density", "type": "quantitative", "stack": null, "scale": {"domain": [-8.575, 16.877], "nice": false, "zero": false}, "axis": null}},
   "layer": [{"mark": {"type": "area", "interpolate": "monotone", "opacity": 1}, "encoding": {"y2": {"datum": 0}}}, {"mark": {"type": "line", "interpolate": "monotone", "strokeWidth": 1.5}, "encoding": {"color": {"value": "black"}}}]},
  {"transform": [{"filter": {"field": "term", "equal": "photosystem I"}}], "encoding": {"y": {"field": "density", "type": "quantitative", "stack": null, "scale": {"domain": [-7.575, 17.877], "nice": false, "zero": false}, "axis": null}},
   "layer": [{"mark": {"type": "area", "interpolate": "monotone", "opacity": 1}, "encoding": {"y2": {"datum": 0}}}, {"mark": {"type": "line", "interpolate": "monotone", "strokeWidth": 1.5}, "encoding": {"color": {"value": "black"}}}]},
  {"transform": [{"filter": {"field": "term", "equal": "thylakoid membrane"}}], "encoding": {"y": {"field": "density", "type": "quantitative", "stack": null, "scale": {"domain": [-6.575, 18.877], "nice": false, "zero": false}, "axis": null}},
   "layer": [{"mark": {"type": "area", "interpolate": "monotone", "opacity": 1}, "encoding": {"y2": {"datum": 0}}}, {"mark": {"type": "line", "interpolate": "monotone", "strokeWidth": 1.5}, "encoding": {"color": {"value": "black"}}}]},
  {"transform": [{"filter": {"field": "term", "equal": "photosynthetic membrane"}}], "encoding": {"y": {"field": "density", "type": "quantitative", "stack": null, "scale": {"domain": [-5.575, 19.877], "nice": false, "zero": false}, "axis": null}},
   "layer": [{"mark": {"type": "area", "interpolate": "monotone", "opacity": 1}, "encoding": {"y2": {"datum": 0}}}, {"mark": {"type": "line", "interpolate": "monotone", "strokeWidth": 1.5}, "encoding": {"color": {"value": "black"}}}]},
  {"transform": [{"filter": {"field": "term", "equal": "thylakoid part"}}], "encoding": {"y": {"field": "density", "type": "quantitative", "stack": null, "scale": {"domain": [-4.575, 20.877], "nice": false, "zero": false}, "axis": null}},
   "layer": [{"mark": {"type": "area", "interpolate": "monotone", "opacity": 1}, "encoding": {"y2": {"datum": 0}}}, {"mark": {"type": "line", "interpolate": "monotone", "strokeWidth": 1.5}, "encoding": {"color": {"value": "black"}}}]},
  {"transform": [{"filter": {"field": "term", "equal": "plastid thylakoid membrane"}}], "encoding": {"y": {"field": "density", "type": "quantitative", "stack": null, "scale": {"domain": [-3.575, 21.877], "nice": false, "zero": false}, "axis": null}},
   "layer": [{"mark": {"type": "area", "interpolate": "monotone", "opacity": 1}, "encoding": {"y2": {"datum": 0}}}, {"mark": {"type": "line", "interpolate": "monotone", "strokeWidth": 1.5}, "encoding": {"color": {"value": "black"}}}]},
  {"transform": [{"filter": {"field": "term", "equal": "chloroplast thylakoid membrane"}}], "encoding": {"y": {"field": "density", "type": "quantitative", "stack": null, "scale": {"domain": [-2.575, 22.877], "nice": false, "zero": false}, "axis": null}},
   "layer": [{"mark": {"type": "area", "interpolate": "monotone", "opacity": 1}, "encoding": {"y2": {"datum": 0}}}, {"mark": {"type": "line", "interpolate": "monotone", "strokeWidth": 1.5}, "encoding": {"color": {"value": "black"}}}]},
  {"transform": [{"filter": {"field": "term", "equal": "plastid thylakoid"}}], "encoding": {"y": {"field": "density", "type": "quantitative", "stack": null, "scale": {"domain": [-1.575, 23.877], "nice": false, "zero": false}, "axis": null}},
   "layer": [{"mark": {"type": "area", "interpolate": "monotone", "opacity": 1}, "encoding": {"y2": {"datum": 0}}}, {"mark": {"type": "line", "interpolate": "monotone", "strokeWidth": 1.5}, "encoding": {"color": {"value": "black"}}}]},
  {"transform": [{"filter": {"field": "term", "equal": "chloroplast thylakoid"}}], "encoding": {"y": {"field": "density", "type": "quantitative", "stack": null, "scale": {"domain": [-0.575, 24.877], "nice": false, "zero": false}, "axis": null}},
   "layer": [{"mark": {"type": "area", "interpolate": "monotone", "opacity": 1}, "encoding": {"y2": {"datum": 0}}}, {"mark": {"type": "line", "interpolate": "monotone", "strokeWidth": 1.5}, "encoding": {"color": {"value": "black"}}}]}
],
"resolve": {"scale": {"y": "independent"}}
}
